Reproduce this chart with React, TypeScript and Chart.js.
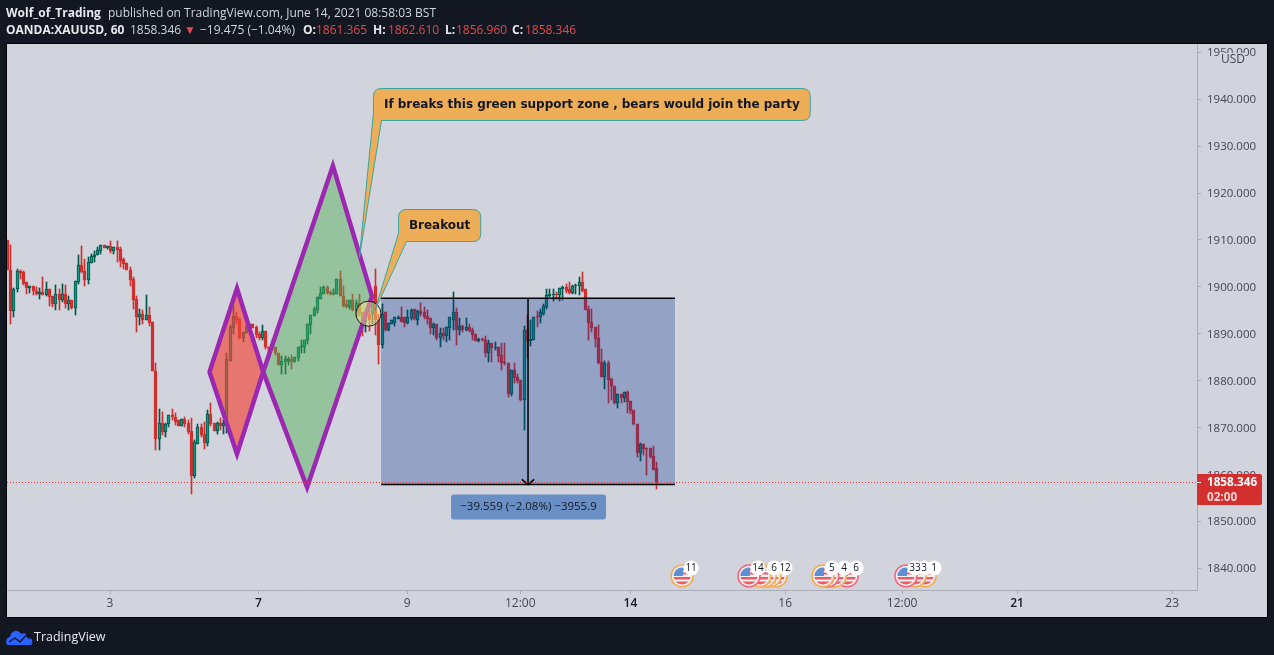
import React, { useEffect, useRef } from "react";
import { Chart, registerables } from "chart.js";

Chart.register(...registerables);

const opens = [
1910.1,1903.7,1894.8,1899.5,1903.3,1903.1,1901.0,1899.7,1900.1,1899.2,
1898.6,1899.0,1898.2,1899.5,1898.0,1896.3,1898.6,1897.3,1898.4,1896.3,
1897.3,1895.6,1901.0,1904.6,1903.3,1901.4,1905.2,1906.3,1906.7,1907.6,
1909.0,1908.2,1908.8,1907.6,1908.4,1908.0,1905.9,1905.0,1903.7,1901.6,
1897.5,1893.5,1894.3,1892.9,1894.1,1892.6,1882.2,1867.7,1871.1,1869.2,
1870.7,1872.8,1872.4,1871.6,1870.3,1871.8,1871.1,1869.4,1859.8,1866.6,
1870.1,1868.6,1866.7,1873.0,1871.1,1869.4,1871.1,1870.3,1870.9,1884.3,
1891.2,1893.9,1893.1,1889.2,1890.1,1891.4,1892.0,1891.4,1889.9,
1889.2,1890.7,1887.3,1886.9,1887.3,1886.0,1883.3,1884.1,1884.3,1884.7,
1884.1,1884.8,1887.1,1887.1,1888.6,1891.8,1893.9,1895.0,1897.5,1898.6,
1899.9,1899.0,1898.6,1898.6,1901.6,1898.0,1896.3,1895.8,1897.3,1894.8,
1896.5,1894.6,1892.5,1894.3,1894.3,1900.1,1893.1,1887.7,1894.6,1890.9,
1892.2,1892.4,1893.1,1893.7,1893.5,1892.4,1893.3,1895.2,1892.9,1894.8,
1894.6,1893.9,1893.3,1891.2,1892.2,1889.2,1890.1,1889.5,1891.2,1892.9,
1894.6,1890.9,1891.6,1890.9,1891.4,1890.9,1889.9,1888.4,1889.0,1888.8,
1886.0,1888.0,1886.9,1887.3,1885.4,1884.1,1883.9,1877.3,1882.4,1880.9,
1880.1,1876.0,1890.9,1888.4,1888.8,1893.7,1893.5,1894.3,1895.8,1898.0,
1898.2,1898.6,1898.2,1899.5,1899.9,1899.5,1898.8,1900.1,1900.1,1901.0,
1899.5,1895.2,1892.6,1891.4,1889.2,1884.1,1880.9,1883.7,1880.3,1879.0,
1875.2,1877.1,1876.3,1877.7,1875.6,1873.7,1870.9,1864.7,1866.5,1865.6,
1865.6,1863.9,1861.365,
];

const highs = [
1910.1,1909.0,1899.8,1903.9,1903.7,1903.3,1901.0,1900.3,1900.3,1899.9,
1899.7,1902.2,1901.0,1899.5,1898.0,1900.5,1899.5,1900.7,1900.5,1898.0,
1897.3,1901.2,1906.9,1908.8,1905.9,1906.3,1907.1,1907.6,1908.4,1909.0,
1909.0,1908.8,1909.7,1908.4,1909.7,1908.4,1906.1,1905.0,1904.2,1902.2,
1898.0,1895.4,1895.0,1898.2,1895.8,1892.6,1883.7,1873.9,1873.3,1871.1,
1872.8,1874.1,1873.2,1871.6,1871.8,1872.2,1871.6,1872.0,1867.5,1870.9,
1870.7,1871.3,1873.7,1875.2,1871.1,1871.3,1872.0,1871.6,1886.0,1891.8,
1896.0,1894.6,1893.3,1890.3,1891.8,1892.2,1892.0,1891.6,1890.3,
1891.8,1890.7,1887.3,1888.8,1887.3,1886.0,1885.3,1885.2,1885.0,1885.4,
1885.0,1887.3,1888.6,1888.8,1892.0,1894.1,1895.7,1897.8,1899.9,1900.1,
1900.1,1899.2,1899.6,1901.6,1903.3,1900.1,1897.3,1897.3,1898.5,1897.3,
1898.4,1894.6,1895.1,1895.0,1897.8,1903.9,1894.3,1896.4,1894.6,1892.4,
1892.9,1893.7,1893.9,1895.8,1893.5,1895.0,1895.2,1895.2,1895.0,1896.5,
1895.8,1895.0,1893.3,1892.4,1892.2,1891.2,1891.2,1891.4,1893.7,1899.0,
1895.5,1893.3,1891.8,1893.3,1892.0,1891.2,1889.9,1889.2,1889.2,1889.5,
1888.8,1888.0,1888.2,1887.3,1888.0,1888.0,1883.9,1882.4,1883.9,1881.4,
1880.1,1891.6,1894.1,1892.9,1893.7,1894.8,1895.2,1896.3,1899.5,1899.5,
1899.5,1899.0,1899.7,1900.1,1900.7,1901.0,1900.5,1900.7,1902.2,1903.1,
1899.5,1896.0,1895.2,1891.4,1891.8,1886.7,1884.3,1884.3,1880.5,1879.0,
1877.1,1877.2,1877.7,1877.9,1875.6,1873.7,1870.9,1866.7,1866.5,1865.6,
1865.8,1866.2,1862.61,
];

const lows = [
1903.5,1892.2,1893.5,1899.0,1901.6,1900.5,1898.4,1898.8,1898.2,1898.2,
1897.5,1898.2,1898.0,1896.0,1895.8,1895.0,1895.0,1896.7,1895.6,1895.0,
1895.4,1894.1,1900.7,1902.9,1900.3,1900.7,1905.2,1905.4,1906.7,1907.1,
1908.2,1908.0,1907.3,1907.1,1905.4,1904.2,1903.9,1903.5,1900.3,1895.4,
1890.5,1891.8,1892.0,1892.9,1891.6,1882.0,1865.2,1865.2,1868.4,1868.1,
1870.1,1871.6,1870.5,1870.3,1870.3,1870.1,1868.6,1855.8,1859.4,1866.6,
1868.1,1865.4,1866.2,1870.3,1869.4,1868.6,1869.6,1868.6,1868.8,1884.3,
1889.9,1892.0,1889.0,1888.2,1890.1,1891.4,1891.2,1889.2,1888.6,
1888.6,1886.8,1884.7,1886.9,1885.4,1883.3,1881.5,1881.4,1883.3,1882.6,
1884.1,1884.3,1886.0,1886.0,1887.9,1890.0,1893.9,1894.4,1897.5,1898.6,
1898.6,1898.2,1898.2,1898.4,1898.0,1895.7,1895.6,1895.3,1894.8,1893.9,
1893.9,1889.5,1890.4,1890.7,1892.2,1889.7,1883.5,1886.9,1890.7,1890.7,
1892.0,1891.6,1893.1,1892.6,1891.4,1892.0,1892.9,1892.9,1891.8,1893.9,
1893.1,1892.0,1889.9,1889.7,1888.6,1887.1,1888.6,1888.2,1888.6,1890.9,
1887.7,1889.7,1890.5,1890.7,1890.5,1888.6,1888.4,1888.2,1888.4,1885.0,
1884.1,1884.1,1886.6,1884.1,1882.4,1883.3,1876.5,1876.7,1879.6,1879.6,
1875.8,1869.6,1884.8,1887.5,1888.6,1891.4,1892.4,1894.1,1895.4,1897.8,
1897.1,1897.5,1897.1,1897.3,1898.8,1898.6,1898.6,1898.4,1898.2,1899.0,
1895.0,1888.8,1890.5,1887.1,1883.5,1880.9,1878.2,1875.2,1876.0,1875.0,
1874.3,1875.2,1875.4,1873.2,1873.0,1870.5,1863.7,1863.0,1864.3,1860.0,
1863.5,1861.1,1856.96,
];

const closes = [
1903.5,1894.8,1899.6,1903.3,1902.9,1900.7,1899.7,1900.1,1899.2,1898.6,
1899.0,1898.2,1899.5,1897.8,1896.3,1898.6,1897.3,1898.4,1896.3,1897.3,
1895.6,1901.2,1904.6,1903.1,1901.4,1905.4,1906.5,1906.9,1907.8,1909.0,
1908.2,1908.8,1907.6,1908.4,1907.8,1905.6,1904.8,1903.5,1901.4,1897.3,
1893.5,1894.3,1892.9,1894.1,1892.4,1882.0,1867.7,1871.1,1869.2,1870.9,
1872.8,1872.2,1871.3,1870.3,1871.8,1870.9,1869.2,1859.8,1866.9,1870.1,
1868.4,1866.7,1873.0,1870.7,1869.4,1871.1,1870.3,1871.1,1884.6,1891.4,
1893.9,1892.9,1889.2,1890.3,1891.6,1892.0,1891.2,1889.7,1889.2,
1890.7,1887.1,1886.9,1887.3,1886.0,1883.3,1884.3,1884.6,1884.7,1884.1,
1885.0,1887.3,1887.3,1888.8,1892.0,1894.1,1895.2,1897.8,1898.8,1899.9,
1898.8,1898.4,1898.8,1901.6,1898.0,1896.0,1895.8,1897.3,1895.0,1896.5,
1894.3,1892.5,1894.3,1892.9,1897.1,1892.9,1887.7,1894.3,1890.9,1892.4,
1892.9,1893.7,1893.7,1892.6,1892.4,1893.5,1895.0,1893.1,1894.8,1894.3,
1893.7,1893.1,1891.2,1892.2,1889.2,1890.1,1889.5,1891.4,1893.7,1894.6,
1890.9,1891.6,1890.9,1891.4,1890.7,1889.7,1888.4,1889.0,1888.6,1886.0,
1888.0,1886.9,1887.3,1885.2,1883.9,1883.7,1877.3,1882.4,1880.7,1879.9,
1876.0,1890.9,1888.4,1889.0,1893.7,1893.5,1894.6,1896.0,1898.2,1898.4,
1898.6,1898.2,1899.7,1899.9,1899.2,1898.8,1900.3,1900.3,1901.0,1899.2,
1895.0,1892.4,1891.2,1889.0,1883.9,1880.9,1883.7,1880.1,1878.8,1875.2,
1877.1,1876.3,1877.7,1875.4,1873.5,1870.7,1864.7,1866.5,1865.4,1865.4,
1863.7,1861.1,1858.346,
];

const priceTicks = [1840,1850,1860,1870,1880,1890,1900,1910,1920,1930,1940,1950];
const timeTickBars = [31.8,77.7,123.8,158.8,192.9,240.8,277.0,312.6,360.6];
const timeTickLabels = ["3","7","9","12:00","14","16","12:00","21","23"];
const boldTimeLabels = ["7","14","21"];

const redDiamondBars = [62.6,71.1,79.2,71.1,62.6,71.1];
const redDiamondPrices = [1881.9,1899.7,1881.9,1864.4,1881.9,1899.7];
const greenDiamondBars = [79.2,100.8,112.9,92.8,79.2,100.8];
const greenDiamondPrices = [1881.9,1925.8,1898.0,1857.3,1881.9,1925.8];

const measureStartBar = 115.7;
const measureEndBar = 206.7;
const measureArrowBar = 161.2;
const measureTopPrice = 1897.6;
const measureBottomPrice = 1857.9;
const measureLabel = "\u221239.559 (\u22122.08%) \u22123955.9";
const lastPrice = 1858.346;
const countdown = "02:00";

const noteTexts = ["If breaks this green support zone , bears would join the party","Breakout"];
const noteBoxBars = [113.2,121.1];
const noteBoxPrices = [1942.3,1916.6];
const noteTipBars = [109,113.8];
const noteTipPrices = [1906.3,1895.0];

const circleBar = 111.8;
const circlePrice = 1894.3;

const eventBars = [208.9,229.6,233,234.6,236.1,238,252.5,254,256.3,260,278.2,281,284.1];
const eventKinds = ["o","r","o","o","o","o","o","r","o","r","r","o","o"];
const eventCounts = ["11","","","6","","","","","4","","","3","1"];
const topEventBars = [229.6,238,252.5,260,278.2];
const topEventCounts = ["14","12","5","6","33"];

const FONT = '"Open Sans", sans-serif';
const BG = "#131722";
const PANEL = "#d1d4dc";
const UP = "#0a9a85";
const UP_DARK = "#00564a";
const DOWN = "#d32f2f";
const PURPLE = "#9c27b0";
const TAG = "#d32f2f";

const points = (xs: number[], ys: number[]) => xs.map((x, i) => ({ x, y: ys[i] }));

const panelPlugin = {
  id: "panel",
  beforeDraw(chart: any) {
    const { ctx, width, height } = chart;
    ctx.save();
    ctx.fillStyle = BG;
    ctx.fillRect(0, 0, width, height);
    ctx.fillStyle = "#000";
    ctx.fillRect(6, 43, 1262, 575);
    ctx.fillStyle = PANEL;
    ctx.fillRect(7, 44, 1260, 573);
    ctx.restore();
  },
};

const snapPlugin = {
  id: "snap",
  afterDatasetsUpdate(chart: any) {
    chart.data.datasets.forEach((_: any, d: number) => {
      const meta = chart.getDatasetMeta(d);
      if (meta.type !== "bar") return;
      meta.data.forEach((el: any) => {
        el.x = Math.floor(el.x) + 0.5;
        const a = Math.round(el.y);
        let b = Math.round(el.base);
        if (a === b) b = a + 1;
        el.y = a;
        el.base = b;
        el.height = b - a;
      });
    });
  },
};

function roundedNote(ctx: any, l: number, t: number, w: number, h: number, tx: number, ty: number) {
  const r = 8;
  const b = t + h;
  const R = l + w;
  ctx.beginPath();
  ctx.moveTo(l + r, t);
  ctx.lineTo(R - r, t);
  ctx.quadraticCurveTo(R, t, R, t + r);
  ctx.lineTo(R, b - r);
  ctx.quadraticCurveTo(R, b, R - r, b);
  ctx.lineTo(l + 8, b);
  ctx.lineTo(tx, ty);
  ctx.lineTo(l, b - 8);
  ctx.lineTo(l, t + r);
  ctx.quadraticCurveTo(l, t, l + r, t);
  ctx.closePath();
  ctx.fillStyle = "#edae57";
  ctx.fill();
  ctx.lineWidth = 1;
  ctx.strokeStyle = "#3aa6a0";
  ctx.stroke();
}

function drawFlag(ctx: any, cx: number, cy: number, ring: string) {
  ctx.save();
  ctx.beginPath();
  ctx.arc(cx, cy, 11, 0, Math.PI * 2);
  ctx.fillStyle = "rgba(240,240,245,0.9)";
  ctx.fill();
  ctx.lineWidth = 1.6;
  ctx.strokeStyle = ring;
  ctx.stroke();
  ctx.beginPath();
  ctx.arc(cx, cy, 8.5, 0, Math.PI * 2);
  ctx.clip();
  ctx.fillStyle = "#f2f2f2";
  ctx.fillRect(cx - 9, cy - 9, 18, 18);
  ctx.fillStyle = "#ef5a64";
  ctx.fillRect(cx - 9, cy + 1, 18, 2.5);
  ctx.fillRect(cx - 9, cy + 5.5, 18, 3.5);
  ctx.fillRect(cx + 1, cy - 3.5, 8, 2);
  ctx.fillRect(cx + 1, cy - 7.5, 8, 2);
  ctx.fillStyle = "#5b8fd6";
  ctx.fillRect(cx - 9, cy - 9, 10, 9);
  ctx.restore();
}

function drawCount(ctx: any, cx: number, cy: number, text: string) {
  ctx.beginPath();
  ctx.arc(cx + 9, cy - 8, 7.5, 0, Math.PI * 2);
  ctx.fillStyle = "#ffffff";
  ctx.fill();
  ctx.fillStyle = "#131722";
  ctx.font = `10px ${FONT}`;
  ctx.textAlign = "center";
  ctx.textBaseline = "middle";
  ctx.fillText(text, cx + 9, cy - 7.5);
}

const overlayPlugin = {
  id: "overlay",
  afterDatasetsDraw(chart: any) {
    const { ctx, scales, chartArea } = chart;
    const x = scales.x;
    const y = scales.y;
    ctx.save();
    ctx.beginPath();
    ctx.rect(chartArea.left, chartArea.top, chartArea.right - chartArea.left, chartArea.bottom - chartArea.top);
    ctx.clip();

    // highlight circle
    ctx.beginPath();
    ctx.arc(x.getPixelForValue(circleBar), y.getPixelForValue(circlePrice), 12.5, 0, Math.PI * 2);
    ctx.fillStyle = "rgba(255,241,118,0.45)";
    ctx.fill();
    ctx.lineWidth = 1;
    ctx.strokeStyle = "#1b1b1b";
    ctx.stroke();

    // notes
    noteTexts.forEach((text, i) => {
      ctx.font = `bold 12px "DejaVu Sans", sans-serif`;
      ctx.letterSpacing = "-0.03px";
      const w = ctx.measureText(text).width + 21;
      const l = Math.round(x.getPixelForValue(noteBoxBars[i])) + 0.5;
      const t = Math.round(y.getPixelForValue(noteBoxPrices[i])) + 0.5;
      roundedNote(ctx, l, t, w, 32, x.getPixelForValue(noteTipBars[i]), y.getPixelForValue(noteTipPrices[i]));
      ctx.fillStyle = "#131722";
      ctx.textAlign = "left";
      ctx.textBaseline = "middle";
      ctx.fillText(text, l + 10.5, t + 16);
      ctx.letterSpacing = "0px";
    });

    // measure label
    const mx = x.getPixelForValue(measureArrowBar);
    const my = y.getPixelForValue(measureBottomPrice);
    ctx.beginPath();
    ctx.roundRect(mx - 77, my + 10, 155, 25, 3);
    ctx.fillStyle = "#6a8fc4";
    ctx.fill();
    ctx.fillStyle = "#131722";
    ctx.font = `11.5px ${FONT}`;
    ctx.textAlign = "center";
    ctx.textBaseline = "middle";
    ctx.fillText(measureLabel, mx + 0.5, my + 22.5);

    // events: the leftmost icon of a cluster lies on top
    const cy = chartArea.bottom - 14;
    for (let i = eventBars.length - 1; i >= 0; i--) {
      drawFlag(ctx, x.getPixelForValue(eventBars[i]), cy, eventKinds[i] === "r" ? "#f4687a" : "#f7ab4d");
    }
    eventBars.forEach((b, i) => {
      if (eventCounts[i]) drawCount(ctx, x.getPixelForValue(b), cy, eventCounts[i]);
    });
    topEventBars.forEach((b, i) => drawCount(ctx, x.getPixelForValue(b), cy, topEventCounts[i]));
    ctx.restore();
  },
  afterDraw(chart: any) {
    const { ctx, scales, chartArea } = chart;
    const y = scales.y;
    const ly = y.getPixelForValue(lastPrice);
    ctx.save();
    // USD tag
    ctx.fillStyle = PANEL;
    ctx.fillRect(chartArea.right + 23, chartArea.top + 9, 25, 14);
    ctx.fillStyle = "#434651";
    ctx.font = `12px ${FONT}`;
    ctx.textAlign = "left";
    ctx.textBaseline = "middle";
    ctx.fillText("USD", chartArea.right + 24, chartArea.top + 16);
    // price tag
    ctx.beginPath();
    ctx.roundRect(chartArea.right, ly - 8.5, 65, 31, [0, 2, 2, 0]);
    ctx.fillStyle = TAG;
    ctx.fill();
    ctx.fillStyle = "#ffffff";
    ctx.fillRect(chartArea.right, Math.floor(ly), 4, 1);
    ctx.font = `bold 11.7px ${FONT}`;
    ctx.fillText(lastPrice.toFixed(3), chartArea.right + 10, ly);
    ctx.fillStyle = "rgba(255,255,255,0.8)";
    ctx.fillText(countdown, chartArea.right + 10, ly + 15);
    ctx.restore();
  },
};

function Logo() {
  return (
    <svg width="27" height="16" viewBox="0 0 27 16" style={{ position: "absolute", left: 6, top: 629 }}>
      <path d="M0.5 15 C-0.5 11 1 8.2 4 8 C5 3 9.5 0.5 12.5 2.5 L16 5 C18 3.2 21 5 21.5 8 C24.5 8 27.5 11 26 15 C25.5 15.6 25 16 24 16 L2.5 16 C1.5 16 1 15.6 0.5 15 Z" fill="#2962ff" />
      <polyline points="3,13 9,9 14,13 20,6.5 24,10" fill="none" stroke="#131722" strokeWidth="1.4" />
    </svg>
  );
}

const headBase: React.CSSProperties = {
  position: "absolute",
  fontFamily: FONT,
  fontSize: 12,
  lineHeight: "17px",
  whiteSpace: "pre",
  color: "#d1d4dc",
};

function T({ x, y, bold, red, children }: any) {
  return (
    <span style={{ ...headBase, left: x, top: y, fontWeight: bold ? 700 : 400, color: red ? "#e04b4b" : bold ? "#e8e9ee" : "#d1d4dc" }}>
      {children}
    </span>
  );
}

export default function App() {
  const ref = useRef<HTMLCanvasElement>(null);
  useEffect(() => {
    document.body.style.margin = "0";
    document.body.style.background = BG;
    const bars = opens.map((_, i) => i);
    const up = bars.map((i) => closes[i] >= opens[i]);
    const chart = new Chart(ref.current as HTMLCanvasElement, {
      type: "bar",
      data: {
        datasets: [
          {
            type: "bar",
            order: 30,
            grouped: false,
            barThickness: 1,
            minBarLength: 1,
            data: bars.map((i) => ({ x: i, y: [lows[i], highs[i]] })),
            backgroundColor: bars.map((i) => (up[i] ? UP_DARK : DOWN)),
          },
          {
            type: "bar",
            order: 29,
            grouped: false,
            barThickness: 3,
            minBarLength: 1,
            borderWidth: 1,
            borderSkipped: false,
            data: bars.map((i) => ({ x: i, y: [Math.min(opens[i], closes[i]), Math.max(opens[i], closes[i])] })),
            backgroundColor: bars.map((i) => (up[i] ? UP : DOWN)),
            borderColor: bars.map((i) => (up[i] ? UP_DARK : DOWN)),
          },
          {
            type: "line",
            order: 20,
            data: points(redDiamondBars, redDiamondPrices),
            borderColor: PURPLE,
            borderWidth: 4.5,
            borderJoinStyle: "miter",
            backgroundColor: "rgba(244,67,54,0.65)",
            fill: "shape",
            pointRadius: 0,
            tension: 0,
          },
          {
            type: "line",
            order: 19,
            data: points(greenDiamondBars, greenDiamondPrices),
            borderColor: PURPLE,
            borderWidth: 4.5,
            borderJoinStyle: "miter",
            backgroundColor: "rgba(76,175,80,0.45)",
            fill: "shape",
            pointRadius: 0,
            tension: 0,
          },
          {
            type: "line",
            order: 18,
            data: points(
              [measureStartBar, measureEndBar, measureEndBar, measureStartBar],
              [measureTopPrice, measureTopPrice, measureBottomPrice, measureBottomPrice]
            ),
            borderWidth: 0,
            backgroundColor: "rgba(5,45,147,0.3)",
            fill: "shape",
            pointRadius: 0,
            tension: 0,
          },
          {
            type: "line",
            order: 17,
            data: points([measureStartBar, measureEndBar], [measureTopPrice, measureTopPrice]),
            borderColor: "#000",
            borderWidth: 1.5,
            pointRadius: 0,
          },
          {
            type: "line",
            order: 16,
            data: points([measureStartBar, measureEndBar], [measureBottomPrice, measureBottomPrice]),
            borderColor: "#000",
            borderWidth: 1.5,
            pointRadius: 0,
          },
          {
            type: "line",
            order: 15,
            data: points([measureArrowBar, measureArrowBar], [measureTopPrice, measureBottomPrice]),
            borderColor: "#000",
            borderWidth: 1.5,
            pointRadius: 0,
          },
          {
            type: "line",
            order: 14,
            data: points(
              [measureArrowBar - 1.9, measureArrowBar, measureArrowBar + 1.9],
              [measureBottomPrice + 1.1, measureBottomPrice, measureBottomPrice + 1.1]
            ),
            borderColor: "#000",
            borderWidth: 1.5,
            pointRadius: 0,
            tension: 0,
          },
          {
            type: "line",
            order: 13,
            data: points([-0.1, 368.3], [lastPrice, lastPrice]),
            borderColor: "#e53935",
            borderWidth: 1,
            borderDash: [1, 2],
            pointRadius: 0,
          },
        ] as any,
      },
      options: {
        animation: false,
        responsive: false,
        events: [],
        layout: { padding: { left: 7, top: 44, right: 7, bottom: 38 } },
        plugins: { legend: { display: false }, tooltip: { enabled: false } },
        scales: {
          x: {
            type: "linear",
            offset: false,
            min: -0.1,
            max: 368.3,
            afterFit: (s: any) => { s.height = 27; s.paddingLeft = 0; s.paddingRight = 0; },
            afterBuildTicks: (s: any) => { s.ticks = timeTickBars.map((value) => ({ value })); },
            grid: { drawOnChartArea: false, tickLength: 4, color: "#a9acb6", offset: false },
            border: { color: "#a9acb6" },
            ticks: {
              autoSkip: false,
              maxRotation: 0,
              minRotation: 0,
              padding: 2,
              callback: (_v: any, i: number) => timeTickLabels[i],
              color: (c: any) => (boldTimeLabels.includes(timeTickLabels[c.index]) ? "#131722" : "#434651"),
              font: (c: any) => ({ family: FONT, size: 12, weight: boldTimeLabels.includes(timeTickLabels[c.index]) ? 600 : 400 }),
            },
          },
          y: {
            position: "right",
            min: 1835.45,
            max: 1951.74,
            afterFit: (s: any) => { s.width = 70; s.paddingTop = 0; s.paddingBottom = 0; },
            afterBuildTicks: (s: any) => { s.ticks = priceTicks.map((value) => ({ value })); },
            grid: { drawOnChartArea: false, tickLength: 4, color: "#a9acb6" },
            border: { color: "#a9acb6" },
            ticks: {
              padding: 6,
              labelOffset: 0.5,
              color: "#434651",
              font: { family: FONT, size: 11.5 },
              callback: (v: any) => Number(v).toFixed(3),
            },
          },
        },
      } as any,
      plugins: [panelPlugin, snapPlugin, overlayPlugin],
    } as any);
    return () => chart.destroy();
  }, []);

  return (
    <div style={{ position: "absolute", left: 0, top: 0, width: 1274, height: 655, overflow: "hidden", background: BG }}>
      <canvas ref={ref} width={1274} height={655} style={{ position: "absolute", left: 0, top: 0, width: 1274, height: 655 }} />
      <T x={6} y={4} bold>Wolf_of_Trading</T>
      <T x={108} y={4}>published on TradingView.com, June 14, 2021 08:58:03 BST</T>
      <T x={6} y={21} bold>OANDA:XAUUSD, 60</T>
      <T x={130} y={21}>1858.346</T>
      <T x={184} y={21} red>▼</T>
      <T x={200} y={21}>−19.475 (−1.04%)</T>
      <T x={303} y={21} bold>O:</T>
      <T x={316} y={21} red>1861.365</T>
      <T x={373} y={21} bold>H:</T>
      <T x={388} y={21} red>1862.610</T>
      <T x={445} y={21} bold>L:</T>
      <T x={456} y={21} red>1856.960</T>
      <T x={512} y={21} bold>C:</T>
      <T x={525} y={21} red>1858.346</T>
      <Logo />
      <span style={{ ...headBase, left: 34, top: 628, fontSize: 12.5, color: "#e8e9ee" }}>TradingView</span>
    </div>
  );
}
